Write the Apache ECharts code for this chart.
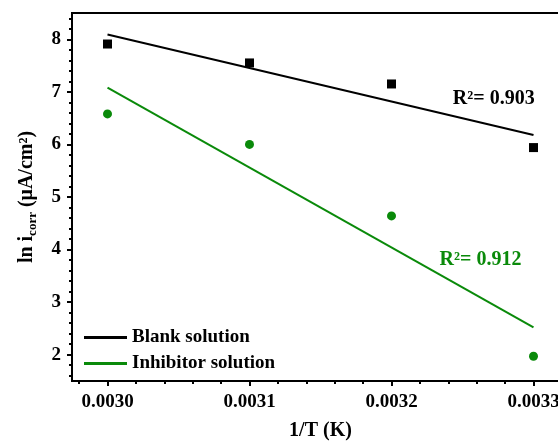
<!DOCTYPE html>
<html>
<head>
<meta charset="utf-8">
<script src="https://cdn.jsdelivr.net/npm/echarts@6/dist/echarts.min.js"></script>
<style>html,body{margin:0;padding:0;background:#fff}#c{width:558px;height:446px}</style>
</head>
<body>
<div id="c"></div>
<script>
// ---- data ----
const xValues = [0.0030, 0.0031, 0.0032, 0.0033];
const blankY = [7.91, 7.55, 7.15, 5.94];
const inhibitorY = [6.58, 6.00, 4.64, 1.97];
// fitted-line endpoint values
const blankFitX = [0.0030, 0.0033];
const blankFitY = [8.09, 6.18];
const inhibitorFitX = [0.0030, 0.0033];
const inhibitorFitY = [7.08, 2.52];
const xTickLabels = [0.0030, 0.0031, 0.0032, 0.0033];
const yTickLabels = [2, 3, 4, 5, 6, 7, 8];
const seriesNames = ['Blank solution', 'Inhibitor solution'];
const r2Labels = ['R²= 0.903', 'R²= 0.912'];

const FONT = "'Liberation Serif','Times New Roman',serif";
const GREEN = '#0a8a0a';

// minor ticks (5 subdivisions per major step)
function minors(lo, hi, step, sub) {
  const out = [];
  const s = step / sub;
  const start = Math.ceil(lo / s - 1e-9);
  for (let k = start; k * s <= hi + 1e-12; k++) {
    const v = +(k * s).toFixed(8);
    if (Math.abs(v / step - Math.round(v / step)) > 1e-6) out.push(v);
  }
  return out;
}
const X_MIN = 0.002975, X_MAX = 0.003325, Y_MIN = 1.5, Y_MAX = 8.5;
const xMinor = minors(X_MIN, X_MAX, 0.0001, 5);
const yMinor = minors(Y_MIN, Y_MAX, 1, 5);

const chart = echarts.init(document.getElementById('c'), null, {renderer: 'canvas'});

const baseX = {
  type: 'value', min: X_MIN, max: X_MAX, gridIndex: 0, position: 'bottom'
};
const baseY = {
  type: 'value', min: Y_MIN, max: Y_MAX, gridIndex: 0, position: 'left'
};

chart.setOption({
  animation: false,
  backgroundColor: '#fff',
  grid: {left: 72, top: 13, width: 497, height: 368, show: true, borderColor: '#000', borderWidth: 2,
    backgroundColor: 'transparent', containLabel: false, outerBoundsMode: 'none'},
  xAxis: [
    Object.assign({}, baseX, {
      name: '1/T (K)', nameLocation: 'middle', nameGap: 40,
      nameTextStyle: {fontFamily: FONT, fontWeight: 'bold', fontSize: 20, color: '#000'},
      axisLine: {show: true, onZero: false, lineStyle: {color: '#000', width: 2}},
      axisTick: {show: true, inside: false, length: 5, lineStyle: {color: '#000', width: 2}, customValues: xTickLabels},
      axisLabel: {show: true, margin: 12, customValues: xTickLabels, fontFamily: FONT, fontWeight: 'bold', fontSize: 19, color: '#000',
        formatter: v => Number(v).toFixed(4)},
      splitLine: {show: false}
    }),
    Object.assign({}, baseX, {
      axisLine: {show: false},
      axisTick: {show: true, inside: false, length: 3, lineStyle: {color: '#000', width: 2}, customValues: xMinor},
      axisLabel: {show: false},
      splitLine: {show: false}
    })
  ],
  yAxis: [
    Object.assign({}, baseY, {
      name: '{m|ln i}{s|corr}{m| (μA/cm²)}', nameLocation: 'middle', nameGap: 33, nameRotate: 90,
      nameTextStyle: {
        fontFamily: FONT, fontWeight: 'bold', fontSize: 20, color: '#000',
        rich: {
          m: {fontFamily: FONT, fontWeight: 'bold', fontSize: 20, color: '#000', lineHeight: 24},
          s: {fontFamily: FONT, fontWeight: 'bold', fontSize: 13, color: '#000', lineHeight: 8, verticalAlign: 'bottom'}
        }
      },
      axisLine: {show: true, onZero: false, lineStyle: {color: '#000', width: 2}},
      axisTick: {show: true, inside: false, length: 5, lineStyle: {color: '#000', width: 2}, customValues: yTickLabels},
      axisLabel: {show: true, margin: 11, customValues: yTickLabels, fontFamily: FONT, fontWeight: 'bold', fontSize: 19, color: '#000'},
      splitLine: {show: false}
    }),
    Object.assign({}, baseY, {
      axisLine: {show: false},
      axisTick: {show: true, inside: false, length: 3, lineStyle: {color: '#000', width: 2}, customValues: yMinor},
      axisLabel: {show: false},
      splitLine: {show: false}
    })
  ],
  legend: {
    data: seriesNames,
    orient: 'vertical', left: 84, top: 328,
    icon: 'rect', itemWidth: 43, itemHeight: 3, itemGap: 7,
    textStyle: {fontFamily: FONT, fontWeight: 'bold', fontSize: 19, color: '#000'},
    padding: 0
  },
  series: [
    {
      name: seriesNames[0], type: 'line', xAxisIndex: 0, yAxisIndex: 0,
      data: blankFitX.map((x, i) => [x, blankFitY[i]]),
      symbol: 'none', lineStyle: {color: '#000', width: 2}, itemStyle: {color: '#000'}, z: 3
    },
    {
      name: seriesNames[1], type: 'line', xAxisIndex: 0, yAxisIndex: 0,
      data: inhibitorFitX.map((x, i) => [x, inhibitorFitY[i]]),
      symbol: 'none', lineStyle: {color: GREEN, width: 2}, itemStyle: {color: GREEN}, z: 3
    },
    {
      name: 'Blank data', type: 'scatter', xAxisIndex: 0, yAxisIndex: 0,
      data: xValues.map((x, i) => [x, blankY[i]]),
      symbol: 'rect', symbolSize: 9, itemStyle: {color: '#000', opacity: 1}, z: 4
    },
    {
      name: 'Inhibitor data', type: 'scatter', xAxisIndex: 0, yAxisIndex: 0,
      data: xValues.map((x, i) => [x, inhibitorY[i]]),
      symbol: 'circle', symbolSize: 9, itemStyle: {color: GREEN, opacity: 1}, z: 4
    },
    {
      name: 'R2 labels', type: 'scatter', xAxisIndex: 0, yAxisIndex: 0,
      symbolSize: 0, silent: true, itemStyle: {opacity: 1},
      data: [
        {value: [0.003272, 6.867], label: {formatter: r2Labels[0], color: '#000'}},
        {value: [0.0032627, 3.80], label: {formatter: r2Labels[1], color: GREEN}}
      ],
      label: {show: true, position: 'inside', fontFamily: FONT, fontWeight: 'bold', fontSize: 20, opacity: 1},
      z: 5
    }
  ]
});
</script>
</body>
</html>
